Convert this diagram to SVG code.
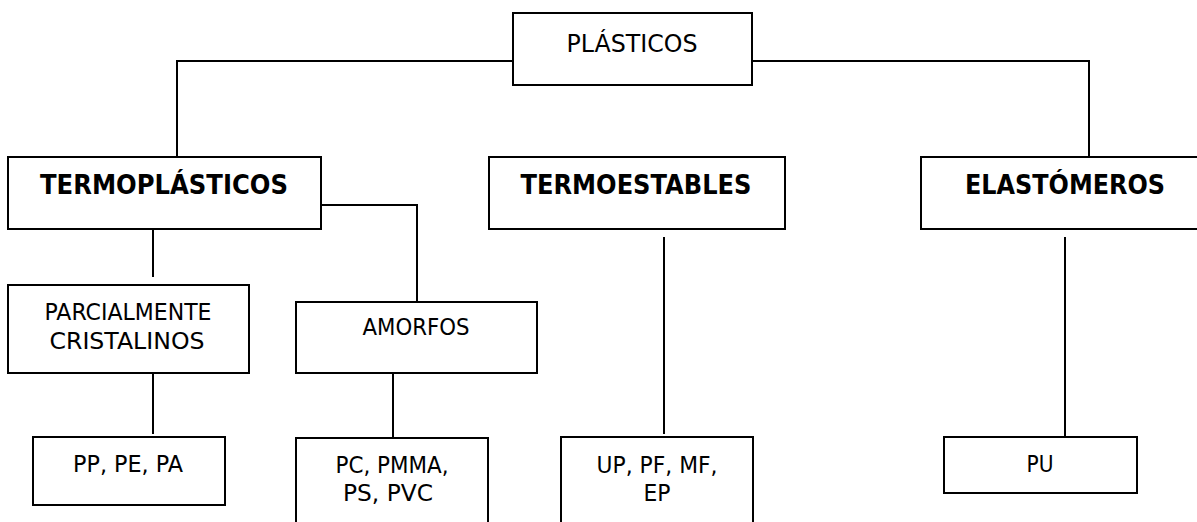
<svg xmlns="http://www.w3.org/2000/svg" width="1197" height="522" viewBox="0 0 1197 522">
  <style>
    .box { fill: #ffffff; stroke: #000000; stroke-width: 2; }
    .wire { fill: none; stroke: #000000; stroke-width: 2; }
    text { font-family: "DejaVu Sans", Verdana, sans-serif; fill: #000000; text-anchor: middle; }
    .reg { font-size: 23px; }
    .head { font-size: 26px; font-weight: bold; }
    .root { font-size: 25px; }
  </style>
  <rect width="1197" height="522" fill="#ffffff"/>

  <!-- connectors -->
  <g id="connectors">
    <polyline class="wire" points="177,157 177,61 513,61"/>
    <polyline class="wire" points="752,61 1089,61 1089,157"/>
    <polyline class="wire" points="321,205 417,205 417,302"/>
    <line class="wire" x1="153" y1="229" x2="153" y2="277"/>
    <line class="wire" x1="153" y1="368" x2="153" y2="434"/>
    <line class="wire" x1="393" y1="368" x2="393" y2="441"/>
    <line class="wire" x1="664" y1="237" x2="664" y2="434"/>
    <line class="wire" x1="1065" y1="237" x2="1065" y2="447"/>
  </g>

  <g id="plasticos">
    <rect class="box" x="513" y="13" width="239" height="72"/>
    <text class="root" x="632" y="52" textLength="131" lengthAdjust="spacingAndGlyphs">PLÁSTICOS</text>
  </g>

  <g id="termoplasticos">
    <rect class="box" x="8" y="157" width="313" height="72"/>
    <text class="head" x="164" y="194" textLength="248" lengthAdjust="spacingAndGlyphs">TERMOPLÁSTICOS</text>
  </g>

  <g id="termoestables">
    <rect class="box" x="489" y="157" width="296" height="72"/>
    <text class="head" x="636" y="194" textLength="231" lengthAdjust="spacingAndGlyphs">TERMOESTABLES</text>
  </g>

  <g id="elastomeros">
    <rect class="box" x="921" y="157" width="290" height="72"/>
    <text class="head" x="1065" y="194" textLength="200" lengthAdjust="spacingAndGlyphs">ELASTÓMEROS</text>
  </g>

  <g id="parcialmente-cristalinos">
    <rect class="box" x="8" y="285" width="241" height="88"/>
    <text class="reg" x="128" y="320" textLength="167" lengthAdjust="spacingAndGlyphs">PARCIALMENTE</text>
    <text class="reg" x="127" y="349" textLength="155" lengthAdjust="spacingAndGlyphs">CRISTALINOS</text>
  </g>

  <g id="amorfos">
    <rect class="box" x="296" y="302" width="241" height="71"/>
    <text class="reg" x="416" y="335" textLength="107" lengthAdjust="spacingAndGlyphs">AMORFOS</text>
  </g>

  <g id="pp-pe-pa">
    <rect class="box" x="33" y="437" width="192" height="68"/>
    <text class="reg" x="128" y="472" textLength="110" lengthAdjust="spacingAndGlyphs">PP, PE, PA</text>
  </g>

  <g id="pc-pmma-ps-pvc">
    <rect class="box" x="296" y="438" width="192" height="100"/>
    <text class="reg" x="392" y="473" textLength="113" lengthAdjust="spacingAndGlyphs">PC, PMMA,</text>
    <text class="reg" x="388" y="501" textLength="90" lengthAdjust="spacingAndGlyphs">PS, PVC</text>
  </g>

  <g id="up-pf-mf-ep">
    <rect class="box" x="561" y="437" width="192" height="100"/>
    <text class="reg" x="657" y="473" textLength="121" lengthAdjust="spacingAndGlyphs">UP, PF, MF,</text>
    <text class="reg" x="657" y="501" textLength="27" lengthAdjust="spacingAndGlyphs">EP</text>
  </g>

  <g id="pu">
    <rect class="box" x="944" y="437" width="193" height="56"/>
    <text class="reg" x="1040" y="472" textLength="27" lengthAdjust="spacingAndGlyphs">PU</text>
  </g>
</svg>
